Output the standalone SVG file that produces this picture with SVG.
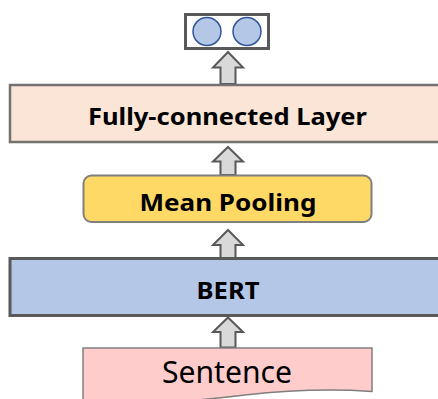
<svg xmlns="http://www.w3.org/2000/svg" width="438" height="399" viewBox="0 0 438 399">
<style>
.arrow{fill:#d9d9d9;stroke:#595959;stroke-width:2;stroke-linejoin:miter}
.lbl{font-family:"Noto Sans","Open Sans","Liberation Sans",sans-serif;font-weight:bold;font-size:24px;fill:#000;text-anchor:middle}
</style>
<rect width="438" height="399" fill="#ffffff"/>
<g id="connectors">
<path class="arrow" d="M228,52 L243,67.5 H235.5 V84 H220.5 V67.5 H213 Z"/>
<path class="arrow" d="M228,147 L243,161.5 H235.5 V175 H220.5 V161.5 H213 Z"/>
<path class="arrow" d="M228,230 L243,245 H235.5 V258 H220.5 V245 H213 Z"/>
<path class="arrow" d="M228,317.5 L243,332 H235.5 V347.5 H220.5 V332 H213 Z"/>
</g>
<g id="output">
<rect x="185.5" y="14.5" width="83" height="34" fill="#ffffff" stroke="#595959" stroke-width="3"/>
<circle cx="207" cy="31.5" r="14" fill="#b4c7e7" stroke="#2f5597" stroke-width="1.5"/>
<circle cx="247" cy="31.5" r="14" fill="#b4c7e7" stroke="#2f5597" stroke-width="1.5"/>
</g>
<g id="fc">
<rect x="10" y="85" width="440" height="57" fill="#fbe5d6" stroke="#767171" stroke-width="2.5"/>
<text class="lbl" x="227.5" y="124.5" textLength="279" lengthAdjust="spacingAndGlyphs">Fully-connected Layer</text>
</g>
<g id="pooling">
<rect x="83.5" y="175.5" width="288" height="46.5" rx="8" fill="#ffd966" stroke="#7f7f7f" stroke-width="2"/>
<text class="lbl" x="228" y="210.5" textLength="177" lengthAdjust="spacingAndGlyphs">Mean Pooling</text>
</g>
<g id="bert">
<rect x="10" y="258.5" width="440" height="57" fill="#b4c7e7" stroke="#595959" stroke-width="3"/>
<text class="lbl" x="228" y="298.5" textLength="63" lengthAdjust="spacingAndGlyphs">BERT</text>
</g>
<g id="sentence">
<path d="M83,348 H372 V391.5 C335,389 290,390 245,395 C195,401 140,406 83,404 Z" fill="#ffcccc" stroke="#7f7f7f" stroke-width="1.5"/>
<text x="227" y="383" font-family="Noto Sans, Open Sans, Liberation Sans, sans-serif" font-size="30" text-anchor="middle" textLength="130" lengthAdjust="spacingAndGlyphs" fill="#000">Sentence</text>
</g>
</svg>
